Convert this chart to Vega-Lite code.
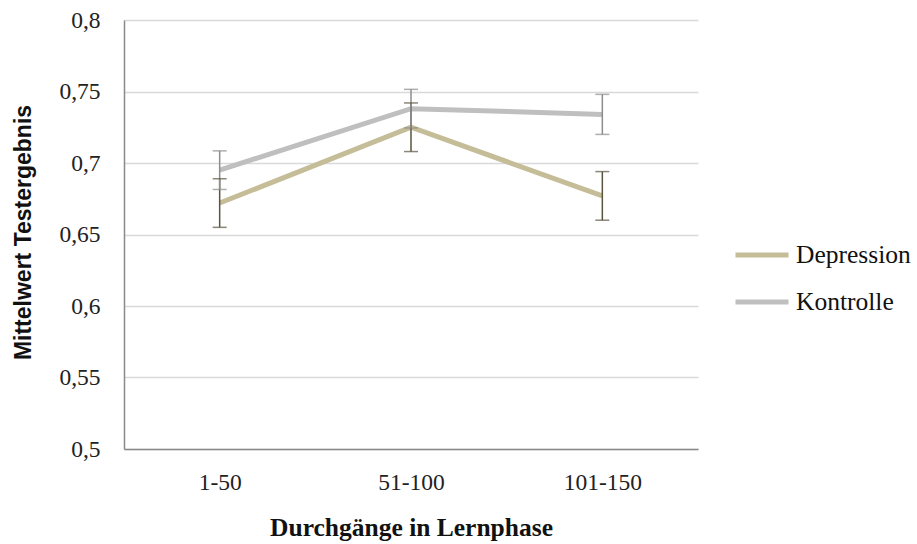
{
  "$schema": "https://vega.github.io/schema/vega-lite/v6.json",
  "width": 574,
  "height": 429,
  "autosize": {"type": "none"},
  "padding": {"left": 124, "top": 20, "right": 219, "bottom": 95},
  "background": "white",
  "config": {
    "view": {"stroke": null},
    "axis": {"labelFont": "Liberation Serif", "labelFontSize": 23.5, "labelColor": "#222222", "ticks": false, "domainColor": "#8a8a8a", "domainWidth": 1.5}
  },
  "data": {
    "values": [
      {"phase": "1-50", "group": "Depression", "mean": 0.672, "lo": 0.655, "hi": 0.689},
      {"phase": "51-100", "group": "Depression", "mean": 0.725, "lo": 0.708, "hi": 0.742},
      {"phase": "101-150", "group": "Depression", "mean": 0.677, "lo": 0.660, "hi": 0.694},
      {"phase": "1-50", "group": "Kontrolle", "mean": 0.695, "lo": 0.6815, "hi": 0.7085},
      {"phase": "51-100", "group": "Kontrolle", "mean": 0.738, "lo": 0.7245, "hi": 0.7515},
      {"phase": "101-150", "group": "Kontrolle", "mean": 0.734, "lo": 0.7200, "hi": 0.7480}
    ]
  },
  "layer": [
    {
      "mark": {"type": "line", "strokeWidth": 5},
      "encoding": {
        "x": {
          "field": "phase", "type": "ordinal", "sort": ["1-50", "51-100", "101-150"],
          "scale": {"type": "point", "padding": 0.5},
          "axis": {"title": "Durchgänge  in Lernphase", "titleFont": "Liberation Serif", "titleFontSize": 25.5, "titleFontWeight": "bold", "titleColor": "#111111", "labelAngle": 0, "labelPadding": 21, "titleBaseline": "middle", "titleY": 78, "grid": false}
        },
        "y": {
          "field": "mean", "type": "quantitative",
          "scale": {"domain": [0.5, 0.8], "nice": false, "zero": false},
          "axis": {"title": "Mittelwert Testergebnis", "titleFont": "Liberation Sans", "titleFontSize": 23, "titleFontWeight": "bold", "titleColor": "#111111", "titleAngle": -90, "titleX": -101, "titleY": 212, "titleAlign": "center", "titleBaseline": "middle", "values": [0.5, 0.55, 0.6, 0.65, 0.7, 0.75, 0.8], "labelExpr": "replace(format(datum.value, '.2~f'), '.', ',')", "labelPadding": 24, "grid": true, "gridColor": "#d9d9d9", "gridWidth": 1.5}
        },
        "color": {
          "field": "group", "type": "nominal",
          "scale": {"domain": ["Depression", "Kontrolle"], "range": ["#c4bd97", "#bfbfbf"]},
          "legend": {"title": null, "orient": "none", "legendX": 609, "legendY": 206, "symbolType": "stroke", "symbolSize": 2809, "symbolStrokeWidth": 5, "labelFont": "Liberation Serif", "labelFontSize": 25.5, "labelColor": "#111111", "labelOffset": 5, "rowPadding": 4}
        }
      }
    },
    {
      "mark": {"type": "rule", "strokeWidth": 1.5},
      "encoding": {
        "x": {"field": "phase", "type": "ordinal", "sort": ["1-50", "51-100", "101-150"]},
        "y": {"field": "lo", "type": "quantitative"},
        "y2": {"field": "hi"},
        "stroke": {"field": "group", "type": "nominal", "scale": {"domain": ["Depression", "Kontrolle"], "range": ["#5a543f", "#8c8c8c"]}, "legend": null}
      }
    },
    {
      "mark": {"type": "tick", "size": 14, "thickness": 1.5},
      "encoding": {
        "x": {"field": "phase", "type": "ordinal", "sort": ["1-50", "51-100", "101-150"]},
        "y": {"field": "lo", "type": "quantitative"},
        "fill": {"field": "group", "type": "nominal", "scale": {"domain": ["Depression", "Kontrolle"], "range": ["#5a543f", "#8c8c8c"]}, "legend": null}
      }
    },
    {
      "mark": {"type": "tick", "size": 14, "thickness": 1.5},
      "encoding": {
        "x": {"field": "phase", "type": "ordinal", "sort": ["1-50", "51-100", "101-150"]},
        "y": {"field": "hi", "type": "quantitative"},
        "fill": {"field": "group", "type": "nominal", "scale": {"domain": ["Depression", "Kontrolle"], "range": ["#5a543f", "#8c8c8c"]}, "legend": null}
      }
    }
  ]
}
